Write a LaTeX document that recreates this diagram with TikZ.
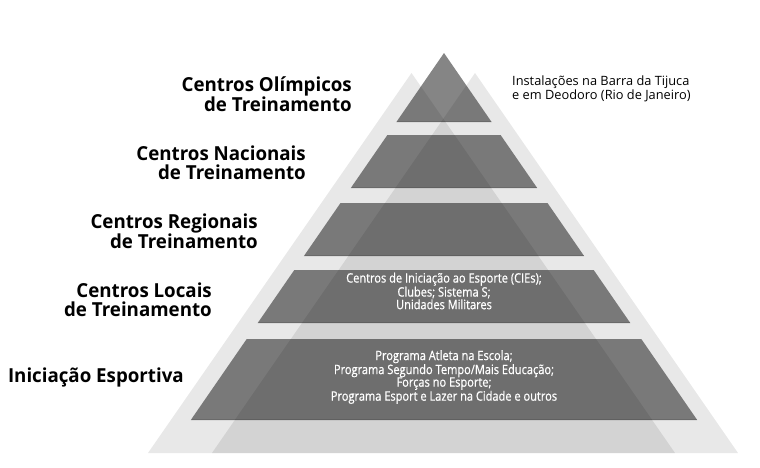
\documentclass[tikz,border=0pt]{standalone}
\usepackage{fontspec}
\setmainfont{Open Sans}
\newfontfamily\condfont[FakeStretch=0.85,FakeBold=0.7]{Open Sans}
\newfontfamily\lblfont[FakeStretch=0.97]{Open Sans}
\begin{document}
\begin{tikzpicture}[x=1pt,y=-1pt,
  lightfill/.style={fill=black,fill opacity=0.09},
  tierfill/.style={fill=black,fill opacity=0.48},
  tierline/.style={draw=black,draw opacity=0.12,line width=1pt},
  lvl/.style={anchor=east,align=right,inner sep=0pt,text=black,font=\lblfont\bfseries\fontsize{19.3}{18.7}\selectfont},
  innertext/.style={align=center,inner sep=0pt,text=white,font=\condfont\fontsize{13}{12.6}\selectfont},
  note/.style={anchor=west,align=left,inner sep=0pt,text=black,font=\fontsize{12.8}{13.5}\selectfont}]
\useasboundingbox (0,0) rectangle (760,467);
\fill[white] (0,0) rectangle (760,467);
% background triangles
\path[lightfill] (411.5,73) -- (148,453) -- (675,453) -- cycle;
\path[lightfill] (475,73) -- (212,453) -- (738,453) -- cycle;
% tiers
\path[tierfill] (444,53) -- (491.6,122) -- (396.4,122) -- cycle;
\path[tierfill] (387.4,135) -- (500.6,135) -- (537.2,188) -- (350.8,188) -- cycle;
\path[tierfill] (340.5,203) -- (547.5,203) -- (584.1,256) -- (303.9,256) -- cycle;
\path[tierfill] (294.3,270) -- (593.7,270) -- (630.3,323) -- (257.7,323) -- cycle;
\path[tierfill] (246.7,339) -- (641.3,339) -- (697.2,420) -- (190.8,420) -- cycle;
\draw[tierline] (397,121.5) -- (491,121.5);
\draw[tierline] (351.5,187.5) -- (536.5,187.5);
\draw[tierline] (304.5,255.5) -- (583.5,255.5);
\draw[tierline] (258.5,322.5) -- (629.5,322.5);
\draw[tierline] (191.5,419.5) -- (696.5,419.5);
% labels
\node[lvl] (olimp) at (352,94.5) {Centros Olímpicos\\de Treinamento};
\node[lvl] (nac) at (306,163) {Centros Nacionais\\de Treinamento};
\node[lvl] (reg) at (258,231) {Centros Regionais\\de Treinamento};
\node[lvl] (loc) at (212,300) {Centros Locais\\de Treinamento};
\node[lvl] (ini) at (184,377) {Iniciação Esportiva};
\node[note] (inst) at (512,89) {Instalações na Barra da Tijuca\\e em Deodoro (Rio de Janeiro)};
\node[innertext] (loctext) at (444,291) {Centros de Iniciação ao Esporte (CIEs);\\Clubes; Sistema S;\\Unidades Militares};
\node[innertext] (initext) at (444,377) {Programa Atleta na Escola;\\Programa Segundo Tempo/Mais Educação;\\Forças no Esporte;\\Programa Esport e Lazer na Cidade e outros};
\end{tikzpicture}
\end{document}
